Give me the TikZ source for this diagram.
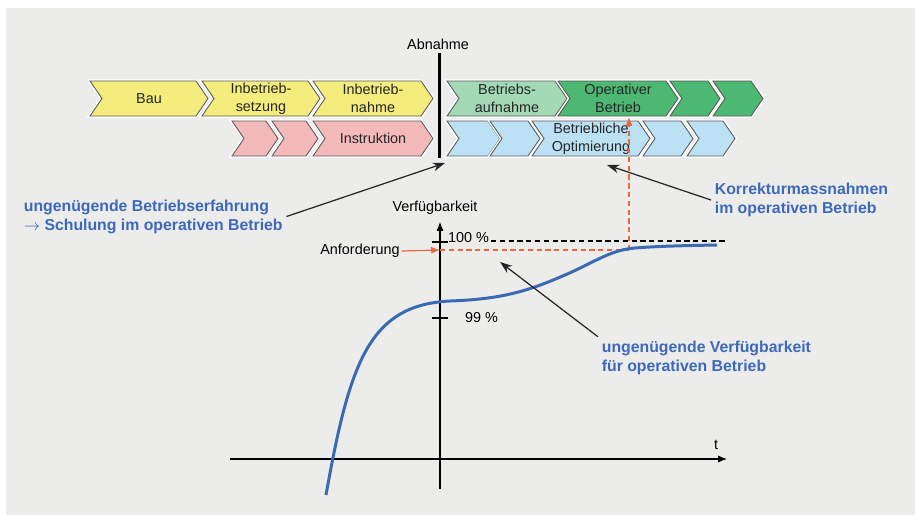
\documentclass[tikz,border=0pt]{standalone}
\usepackage{fontspec}
\setmainfont{Liberation Sans}
\usetikzlibrary{arrows.meta}

\definecolor{bggrey}{HTML}{ECEDEB}
\definecolor{chevline}{HTML}{5A5A5A}
\definecolor{bauyellow}{HTML}{F4EC7C}
\definecolor{instrpink}{HTML}{F4B9B9}
\definecolor{aufgreen}{HTML}{A3D9B5}
\definecolor{opgreen}{HTML}{4DB872}
\definecolor{optblue}{HTML}{BCE1F4}
\definecolor{noteblue}{HTML}{3D68BC}
\definecolor{curveblue}{HTML}{3A6AB4}
\definecolor{reqorange}{HTML}{E8673D}

\tikzset{
  chevbox/.style={draw=chevline, line width=0.5pt, preaction={draw=white, line width=2pt}},
  chevtext/.style={font=\fontsize{8.2}{10}\selectfont, text=black!85, align=center, inner sep=1pt},
  smalltext/.style={font=\fontsize{8.2}{10}\selectfont, inner sep=1pt},
  note/.style={font=\bfseries\fontsize{9}{10.8}\selectfont, text=noteblue, align=left, inner sep=2pt},
  axis/.style={line width=0.6pt, -{Latex[length=5pt,width=4pt]}},
  tickmark/.style={line width=1.6pt},
  pointer/.style={draw=black!85, line width=0.7pt, -{Stealth[length=7pt,width=5pt]}},
  reqline/.style={draw=reqorange, line width=0.7pt, dash pattern=on 3pt off 2pt},
  curve/.style={draw=curveblue, line width=1.7pt}
}

% name, x of left notch, x of tip, y of top edge, colour, text
\newcommand{\chevron}[6]{%
  \filldraw[chevbox, fill=#5] (#2,#4) -- (#3-12,#4) -- (#3,#4+17.5) -- (#3-12,#4+35)
    -- (#2,#4+35) -- (#2+12,#4+17.5) -- cycle;
  \node[chevtext] (#1) at ({(#2+#3)/2},#4+17.5) {#6};
}

\begin{document}
\begin{tikzpicture}[x=0.02cm, y=-0.02cm]
  \useasboundingbox (0,0) rectangle (915,515);
  \fill[bggrey] (6,8) rectangle (915,515);

  % phases, upper row
  \chevron{bau}{90}{208}{81}{bauyellow}{Bau}
  \chevron{setzung}{202}{320}{81}{bauyellow}{Inbetrieb-\\setzung}
  \chevron{nahme}{313}{433}{81}{bauyellow}{Inbetrieb-\\nahme}
  \chevron{aufnahme}{447}{567}{81}{aufgreen}{Betriebs-\\aufnahme}
  \chevron{operativ}{558}{678}{81}{opgreen}{Operativer\\Betrieb}
  \chevron{operativa}{670}{720}{81}{opgreen}{}
  \chevron{operativb}{713}{763}{81}{opgreen}{}
  % phases, lower row
  \chevron{instra}{232}{278}{121}{instrpink}{}
  \chevron{instrb}{272}{318}{121}{instrpink}{}
  \chevron{instruktion}{313}{433}{121}{instrpink}{Instruktion}
  \chevron{opta}{447}{500}{121}{optblue}{}
  \chevron{optb}{490}{540}{121}{optblue}{}
  \chevron{optimierung}{532}{650}{121}{optblue}{Betriebliche\\Optimierung}
  \chevron{optc}{643}{693}{121}{optblue}{}
  \chevron{optd}{687}{735}{121}{optblue}{}

  % Abnahme
  \node[smalltext] (abnahme) at (438,44) {Abnahme};
  \coordinate (abn-top) at (439,53);
  \coordinate (abn-bottom) at (439,158);
  \draw[line width=1.7pt] (abn-top) -- (abn-bottom);

  % axes
  \node[smalltext] (verfuegbar) at (435,208) {Verfügbarkeit};
  \coordinate (yaxis-low) at (440,489);
  \coordinate (yaxis-top) at (440,222);
  \coordinate (xaxis-left) at (230,459);
  \coordinate (xaxis-right) at (727,459);
  \draw[axis] (yaxis-low) -- (yaxis-top);
  \draw[axis] (xaxis-left) -- (xaxis-right);
  \node[smalltext] (tlabel) at (716,445) {t};
  \draw[tickmark] (432,242) -- (448,242);
  \draw[tickmark] (432,318) -- (448,318);
  \node[smalltext, anchor=west] (hundred) at (446,238) {100 \%};
  \node[smalltext, anchor=west] (ninetynine) at (463,318) {99 \%};
  \coordinate (full-end) at (727,241);
  \draw[dash pattern=on 3pt off 2pt, line width=0.6pt] (hundred.east |- full-end) -- (full-end);

  % Anforderung
  \node[smalltext] (anforderung) at (360,251) {Anforderung};
  \coordinate (req-axis) at (440,250);
  \coordinate (req-knee) at (629,250);
  \coordinate (op-foot) at (629,117);
  \draw[draw=reqorange, line width=0.7pt, -{Latex[length=5pt,width=4pt]}] (anforderung.east) -- (req-axis);
  \draw[reqline] (req-axis) -- (req-knee);
  \draw[reqline, -{Latex[length=5pt,width=4pt]}] (req-knee) -- (op-foot);

  % availability curve
  \draw[curve] (326,495) .. controls (350,360) and (370,305) .. (450,301)
    .. controls (505,299) and (530,290) .. (565,275)
    .. controls (595,262) and (610,250) .. (635,248)
    .. controls (660,246) and (690,245.5) .. (717,245);

  % notes
  \node[note, anchor=west] (erfahrung) at (20,216.5) {ungenügende Betriebserfahrung\\$\rightarrow$ Schulung im operativen Betrieb};
  \node[note, anchor=west] (korrektur) at (711,200) {Korrekturmassnahmen\\im operativen Betrieb};
  \node[note, anchor=west] (mangel) at (598,357.5) {ungenügende Verfügbarkeit\\für operativen Betrieb};
  \coordinate (abn-foot) at (445,163);
  \coordinate (korr-tip) at (607,165);
  \coordinate (mangel-tip) at (500,262);
  \draw[pointer] (erfahrung.east) -- (abn-foot);
  \draw[pointer] (korrektur.west) -- (korr-tip);
  \draw[pointer] (mangel.north west) -- (mangel-tip);
\end{tikzpicture}
\end{document}
